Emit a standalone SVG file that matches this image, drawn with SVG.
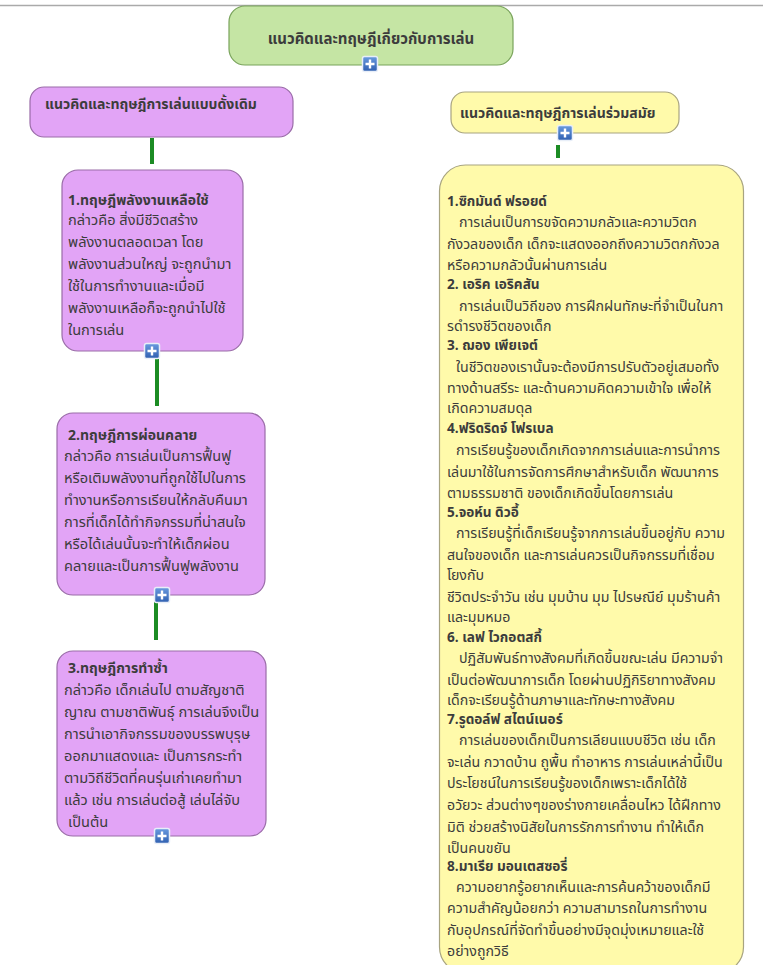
<svg xmlns="http://www.w3.org/2000/svg" width="763" height="965" viewBox="0 0 763 965">
<defs>
<linearGradient id="pg" x1="0" y1="0" x2="0" y2="1"><stop offset="0" stop-color="#6a9be0"/><stop offset="1" stop-color="#2f5fb0"/></linearGradient>
<g id="plus"><rect x="-7.5" y="-7.5" width="15" height="15" rx="2" fill="url(#pg)" stroke="#e8eef8" stroke-width="1.5"/><path d="M-4.5 0H4.5M0 -4.5V4.5" stroke="#fff" stroke-width="2.4"/></g>
</defs>
<style>
text{font-family:"Noto Sans Thai","Tahoma","Liberation Sans","DejaVu Sans",sans-serif;fill:#3c3c3c;font-size:14.2px}
.l{font-size:14.6px}
.b{font-weight:bold;font-size:13.6px}
.lb{font-weight:bold;font-size:14px}
.h{font-weight:bold;font-size:14px}
.t{font-weight:bold;font-size:15px}
.pur{fill:#e2a4f6;stroke:#9a6ca8;stroke-width:1.2}
.yel{fill:#fffaaa;stroke:#a8a480;stroke-width:1.2}
.conn{stroke:#1c8c24;stroke-width:4;fill:none}
</style>
<line x1="0" y1="5.5" x2="763" y2="5.5" stroke="#aaaaaa" stroke-width="1.5"/>
<g id="connectors">
<line class="conn" x1="152" y1="138" x2="152" y2="164"/>
<line class="conn" x1="157" y1="358" x2="157" y2="406"/>
<line class="conn" x1="156" y1="602" x2="156" y2="640"/>
<line class="conn" x1="558" y1="145" x2="558" y2="158"/>
</g>
<g id="root">
<rect x="229" y="6" width="284" height="59" rx="16" fill="#c5e5a4" stroke="#79a35b" stroke-width="1.2"/>
<text class="t" x="371" y="44" text-anchor="middle">แนวคิดและทฤษฎีเกี่ยวกับการเล่น</text>
<use href="#plus" x="370" y="64"/>
</g>
<g id="traditional">
<rect class="pur" x="30" y="87" width="263" height="50" rx="14"/>
<text class="h" x="45" y="109">แนวคิดและทฤษฎีการเล่นแบบดั้งเดิม</text>
</g>
<g id="theory1">
<rect class="pur" x="62" y="170" width="181" height="181" rx="16"/>
<text class="lb" x="68" y="205">1.ทฤษฎีพลังงานเหลือใช้</text>
<text class="l" x="68" y="225">กล่าวคือ สิ่งมีชีวิตสร้าง</text>
<text class="l" x="68" y="247">พลังงานตลอดเวลา โดย</text>
<text class="l" x="68" y="269">พลังงานส่วนใหญ่ จะถูกนำมา</text>
<text class="l" x="68" y="291">ใช้ในการทำงานและเมื่อมี</text>
<text class="l" x="68" y="313">พลังงานเหลือก็จะถูกนำไปใช้</text>
<text class="l" x="68" y="335">ในการเล่น</text>
<use href="#plus" x="152" y="351"/>
</g>
<g id="theory2">
<rect class="pur" x="57" y="413" width="208" height="182" rx="16"/>
<text class="lb" x="68" y="440">2.ทฤษฎีการผ่อนคลาย</text>
<text class="l" x="64" y="461">กล่าวคือ การเล่นเป็นการฟื้นฟู</text>
<text class="l" x="64" y="483">หรือเติมพลังงานที่ถูกใช้ไปในการ</text>
<text class="l" x="64" y="505">ทำงานหรือการเรียนให้กลับคืนมา</text>
<text class="l" x="64" y="527">การที่เด็กได้ทำกิจกรรมที่น่าสนใจ</text>
<text class="l" x="64" y="549">หรือได้เล่นนั้นจะทำให้เด็กผ่อน</text>
<text class="l" x="64" y="571">คลายและเป็นการฟื้นฟูพลังงาน</text>
<use href="#plus" x="162" y="595"/>
</g>
<g id="theory3">
<rect class="pur" x="57" y="651" width="209" height="185" rx="16"/>
<text class="lb" x="68" y="673">3.ทฤษฎีการทำซ้ำ</text>
<text class="l" x="64" y="695">กล่าวคือ เด็กเล่นไป ตามสัญชาติ</text>
<text class="l" x="64" y="717">ญาณ ตามชาติพันธุ์ การเล่นจึงเป็น</text>
<text class="l" x="64" y="739">การนำเอากิจกรรมของบรรพบุรุษ</text>
<text class="l" x="64" y="761">ออกมาแสดงและ เป็นการกระทำ</text>
<text class="l" x="64" y="783">ตามวิถีชีวิตที่คนรุ่นเก่าเคยทำมา</text>
<text class="l" x="64" y="805">แล้ว เช่น การเล่นต่อสู้ เล่นไล่จับ</text>
<text class="l" x="68" y="827">เป็นต้น</text>
<use href="#plus" x="162" y="836"/>
</g>
<g id="contemporary">
<rect class="yel" x="451" y="92" width="228" height="41" rx="14"/>
<text class="h" x="460" y="118">แนวคิดและทฤษฎีการเล่นร่วมสมัย</text>
<use href="#plus" x="565" y="133"/>
</g>
<g id="theorists">
<rect class="yel" x="439.5" y="165" width="304" height="808" rx="26"/>
<text class="b" x="447" y="206">1.ซิกมันด์ ฟรอยด์</text>
<text x="459" y="227">การเล่นเป็นการขจัดความกลัวและความวิตก</text>
<text x="447" y="249">กังวลของเด็ก เด็กจะแสดงออกถึงความวิตกกังวล</text>
<text x="447" y="270">หรือความกลัวนั้นผ่านการเล่น</text>
<text class="b" x="447" y="289">2. เอริค เอริคสัน</text>
<text x="459" y="311">การเล่นเป็นวิถีของ การฝึกฝนทักษะที่จำเป็นในกา</text>
<text x="447" y="331">รดำรงชีวิตของเด็ก</text>
<text class="b" x="447" y="350">3. ฌอง เพียเจต์</text>
<text x="456" y="372">ในชีวิตของเรานั้นจะต้องมีการปรับตัวอยู่เสมอทั้ง</text>
<text x="447" y="393">ทางด้านสรีระ และด้านความคิดความเข้าใจ เพื่อให้</text>
<text x="447" y="413">เกิดความสมดุล</text>
<text class="b" x="447" y="433">4.ฟริดริดจ์ โฟรเบล</text>
<text x="456" y="455">การเรียนรู้ของเด็กเกิดจากการเล่นและการนำการ</text>
<text x="447" y="477">เล่นมาใช้ในการจัดการศึกษาสำหรับเด็ก พัฒนาการ</text>
<text x="447" y="498">ตามธรรมชาติ ของเด็กเกิดขึ้นโดยการเล่น</text>
<text class="b" x="447" y="517">5.จอห์น ดิวอี้</text>
<text x="456" y="538">การเรียนรู้ที่เด็กเรียนรู้จากการเล่นขึ้นอยู่กับ ความ</text>
<text x="447" y="560">สนใจของเด็ก และการเล่นควรเป็นกิจกรรมที่เชื่อม</text>
<text x="447" y="580">โยงกับ</text>
<text x="447" y="602">ชีวิตประจำวัน เช่น มุมบ้าน มุม ไปรษณีย์ มุมร้านค้า</text>
<text x="447" y="622">และมุมหมอ</text>
<text class="b" x="447" y="642">6. เลฟ ไวกอตสกี้</text>
<text x="459" y="663">ปฏิสัมพันธ์ทางสังคมที่เกิดขึ้นขณะเล่น มีความจำ</text>
<text x="447" y="685">เป็นต่อพัฒนาการเด็ก โดยผ่านปฏิกิริยาทางสังคม</text>
<text x="447" y="705">เด็กจะเรียนรู้ด้านภาษาและทักษะทางสังคม</text>
<text class="b" x="447" y="724">7.รูดอล์ฟ สไตน์เนอร์</text>
<text x="459" y="745">การเล่นของเด็กเป็นการเลียนแบบชีวิต เช่น เด็ก</text>
<text x="447" y="767">จะเล่น กวาดบ้าน ถูพื้น ทำอาหาร การเล่นเหล่านี้เป็น</text>
<text x="447" y="788">ประโยชน์ในการเรียนรู้ของเด็กเพราะเด็กได้ใช้</text>
<text x="447" y="810">อวัยวะ ส่วนต่างๆของร่างกายเคลื่อนไหว ได้ฝึกทาง</text>
<text x="447" y="832">มิติ ช่วยสร้างนิสัยในการรักการทำงาน ทำให้เด็ก</text>
<text x="447" y="853">เป็นคนขยัน</text>
<text class="b" x="447" y="871">8.มาเรีย มอนเตสซอรี่</text>
<text x="456" y="892">ความอยากรู้อยากเห็นและการค้นคว้าของเด็กมี</text>
<text x="447" y="913">ความสำคัญน้อยกว่า ความสามารถในการทำงาน</text>
<text x="447" y="935">กับอุปกรณ์ที่จัดทำขึ้นอย่างมีจุดมุ่งเหมายและใช้</text>
<text x="447" y="956">อย่างถูกวิธี</text>
</g>
</svg>
